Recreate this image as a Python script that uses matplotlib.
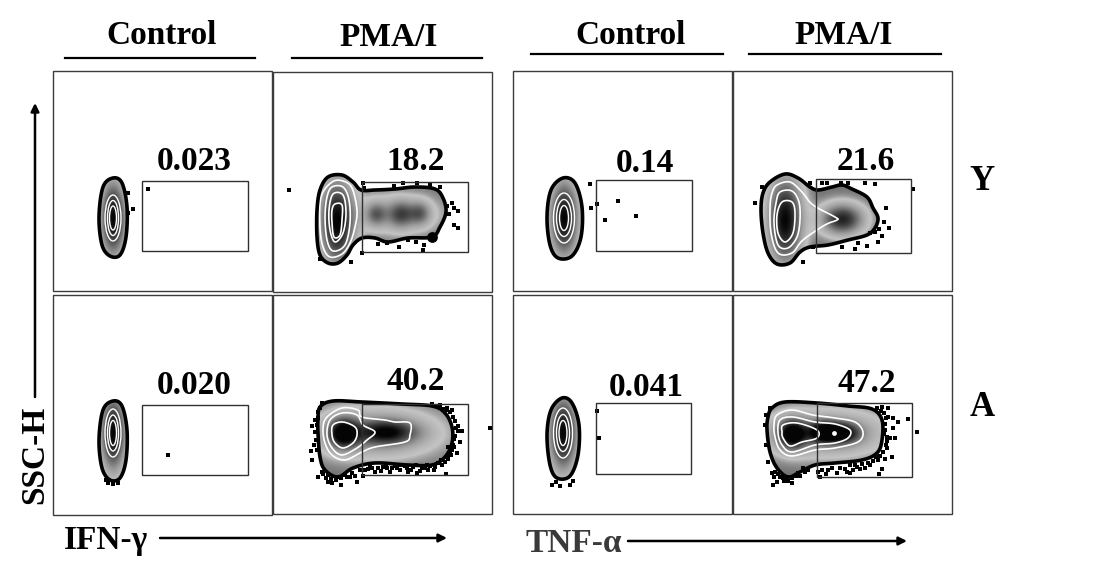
import numpy as np
import matplotlib
matplotlib.use("Agg")
import matplotlib.pyplot as plt
from matplotlib.colors import LinearSegmentedColormap
from matplotlib.patches import Ellipse, Polygon, Rectangle

plt.rcParams['font.family'] = ['Liberation Serif', 'DejaVu Serif']

# text
headers = ["Control", "PMA/I", "Control", "PMA/I"]
percent_labels = ["0.023", "18.2", "0.14", "21.6", "0.020", "40.2", "0.041", "47.2"]
row_labels = ["Y", "A"]

# everything below, in image pixels (x, y)
# outer contour of each population
outline_ifn_ctrl_y = [(113,178),(122,183),(127,207),(126,237),(120,255),(110,256),(102,245),(99,217),(103,187)]
outline_ifn_pma_y = [(328,177),(342,175),(353,182),(361,190),(375,190),(395,189),(415,187),(435,189),(443,198),(446,212),
                     (440,227),(432,237),(408,238),(388,242),(375,238),(362,238),(353,245),(347,255),(338,263),(328,263),
                     (320,255),(317,237),(317,210),(320,190)]
outline_tnf_ctrl_y = [(563,178),(575,183),(582,207),(581,237),(572,256),(558,258),(550,245),(547,217),(551,190)]
outline_tnf_pma_y = [(770,182),(785,174),(798,178),(810,187),(818,190),(832,187),(842,185),(852,189),(867,197),(873,208),
                     (878,218),(875,228),(867,235),(848,240),(828,245),(810,247),(800,252),(790,263),(777,264),(768,253),
                     (763,233),(761,210),(763,193)]
outline_ifn_ctrl_a = [(113,401),(122,406),(127,430),(126,460),(120,478),(110,480),(102,468),(99,440),(103,410)]
outline_ifn_pma_a = [(320,407),(333,401),(362,402),(402,404),(432,406),(445,413),(452,427),(452,443),(445,457),(432,465),
                     (408,465),(375,463),(353,468),(338,477),(325,470),(320,457),(318,433),(318,420)]
outline_tnf_ctrl_a = [(562,398),(572,403),(579,425),(578,455),(570,476),(557,478),(550,465),(547,435),(551,410)]
outline_tnf_pma_a = [(772,408),(785,402),(817,403),(848,406),(872,409),(882,420),(882,440),(877,453),(862,460),(835,463),
                     (815,465),(800,472),(788,477),(777,468),(770,452),(767,430),(768,417)]

# inner white contours of the PMA/I panels
rings_ifn_pma_y = [
    [(332,182),(343,181),(352,188),(357,210),(355,227),(350,243),(342,254),(330,257),(323,247),(320,227),(321,197)],
    [(332,187),(343,187),(349,200),(350,223),(345,245),(333,251),(327,240),(325,217),(327,197)],
    [(333,194),(343,195),(346,213),(343,233),(335,242),(330,230),(329,210)],
    [(335,204),(342,205),(342,220),(340,235),(334,237),(332,223),(332,210)],
]
rings_tnf_pma_y = [
    [(777,185),(790,182),(802,192),(813,205),(835,217),(837,220),(825,225),(803,240),(792,253),(778,253),(771,233),(770,207),(772,193)],
    [(780,192),(792,191),(799,202),(800,220),(797,237),(788,248),(778,245),(774,223),(776,203)],
    [(782,202),(792,202),(795,213),(793,233),(785,242),(778,233),(777,215)],
]
rings_ifn_pma_a = [
    [(327,417),(342,408),(358,410),(362,417),(385,420),(395,422),(410,423),(410,435),(405,442),(375,447),(362,452),(345,460),(332,455),(325,443),(323,428)],
    [(330,420),(342,413),(357,415),(363,425),(375,432),(367,440),(357,448),(342,455),(332,448),(327,435)],
    [(333,425),(343,422),(355,427),(357,435),(353,443),(343,448),(335,443),(332,435)],
]
rings_tnf_pma_a = [
    [(777,415),(792,410),(813,415),(835,418),(855,422),(863,432),(858,442),(835,448),(815,450),(792,456),(780,450),(775,437),(774,425)],
    [(780,420),(793,417),(815,422),(835,424),(850,430),(848,438),(835,443),(815,445),(792,452),(782,445),(778,433)],
    [(783,425),(797,423),(817,430),(817,438),(802,442),(790,446),(783,438),(782,432)],
]

# control lobes: nested ellipses, centre x, centre y, widths, heights
lobe_ifn_y = (113, 218, [16, 11, 7], [46, 35, 24])
lobe_tnf_y = (564, 218, [21, 15, 9], [50, 37, 25])
lobe_ifn_a = (113, 433, [16, 11, 7], [48, 36, 25])
lobe_tnf_a = (563, 433, [19, 13, 8], [50, 37, 25])

# density peaks: x, y, sigma x, sigma y, height
peaks_ifn_ctrl_y = [(113,218,8,24,1.0)]
peaks_ifn_pma_y = [(337,222,11,28,1.0),(376,214,7,8,0.42),(401,214,9,9,0.5),(420,213,7,8,0.42),(395,214,30,13,0.22)]
peaks_tnf_ctrl_y = [(564,218,9,24,1.0)]
peaks_tnf_pma_y = [(785,220,11,28,1.0),(842,219,14,10,0.85)]
peaks_ifn_ctrl_a = [(113,433,8,24,1.0)]
peaks_ifn_pma_a = [(343,433,10,10,1.0),(387,432,20,8,0.7),(375,433,40,16,0.4)]
peaks_tnf_ctrl_a = [(563,433,9,24,1.0)]
peaks_tnf_pma_a = [(792,434,10,10,1.0),(823,432,10,7,0.9),(842,433,12,7,0.8),(825,433,40,15,0.4)]

# single events
dots_ifn_ctrl_y = [(148,189),(128,193),(133,209),(128,213)]
dots_ifn_pma_y = [(289,190),(320,259),(351,262),(362,253),(363,183),(364,188),(394,186),(403,183),(417,183),(430,185),
                  (440,187),(452,203),(447,206),(454,208),(458,211),(449,214),(454,225),(458,228),(424,245),(399,247),
                  (423,250),(378,244),(387,243),(416,242),(408,240)]
dots_tnf_ctrl_y = [(597,204),(618,201),(605,220),(636,216),(590,184),(591,208)]
dots_tnf_pma_y = [(762,187),(755,203),(803,262),(810,183),(822,183),(827,183),(841,183),(848,183),(865,183),(875,184),
                  (913,189),(886,208),(884,222),(889,228),(879,229),(875,232),(882,236),(878,242),(867,246),(858,243),
                  (855,249),(842,247),(813,247),(870,233)]
dots_ifn_ctrl_a = [(168,455),(108,483),(113,484),(118,483),(106,480)]
dots_ifn_pma_a = [(312,426),(317,425),(315,432),(318,418),(320,408),(322,403),(311,451),(317,450),(312,460),(318,477),
                  (328,482),(332,483),(341,485),(357,482),(328,475),(337,477),(347,477),(350,477),(363,476),(368,469),
                  (375,472),(383,467),(392,468),(397,468),(408,472),(417,473),(428,470),(435,467),(446,474),(442,465),
                  (448,459),(457,453),(452,450),(460,442),(454,439),(458,431),(462,431),(458,426),(452,410),(446,410),
                  (490,428),(440,405),(432,404),(451,455),(448,447),(453,445),(390,472),(387,468),(372,468),(422,468),
                  (427,465),(413,467),(407,468),(401,465),
                  (322,472),(326,478),(331,479),(336,480),(341,478),(345,475),(352,473),(355,476),(360,470),(365,470),
                  (370,466),(378,468),(381,471),(386,465),(395,466),(400,470),(405,466),(411,470),(416,465),(420,471),
                  (425,468),(430,466),(434,470),(438,463),(441,460),(445,462),(448,455),(450,452),(454,447),(455,436),
                  (456,428),(455,421),(453,417),(450,412),(447,408),(443,409),(437,406),(323,474),(318,412),(315,420),
                  (316,440),(314,445)]
dots_tnf_ctrl_a = [(597,411),(599,438),(552,485),(556,482),(560,486),(570,485),(573,481)]
dots_tnf_pma_a = [(773,485),(777,482),(774,477),(778,474),(783,478),(792,483),(787,477),(798,473),(803,468),(820,477),
                  (818,472),(828,470),(837,473),(847,472),(853,470),(860,469),(865,468),(879,474),(882,469),(870,465),
                  (885,459),(892,457),(887,448),(895,438),(890,438),(893,428),(898,422),(893,418),(888,417),(908,419),
                  (917,432),(888,408),(882,407),(885,430),(887,437),(878,460),(855,465),(850,465),
                  (775,472),(780,477),(784,481),(788,481),(792,478),(796,476),(800,476),(805,472),(808,470),(822,470),
                  (826,474),(832,468),(840,468),(845,469),(850,473),(857,467),(862,464),(868,463),(873,461),(876,457),
                  (880,456),(883,452),(886,445),(887,441),(884,434),(885,424),(886,418),(884,413),(881,411),(877,408),
                  (772,473),(768,462),(766,445),(765,425),(766,415),(770,408)]

# panel frames and gates: left, top, right, bottom
frames = [(53,71,272,291),(273,72,492,292),(513,71,732,291),(733,71,952,291),
          (53,295,272,515),(273,295,492,514),(513,295,732,514),(733,295,952,514)]
gates = [(142,181,248,251),(362,182,468,252),(596,180,692,251),(816,179,911,253),
         (142,405,248,475),(362,404,468,475),(596,403,691,474),(817,403,912,477)]
label_xy = [(194,162),(416,162),(645,163),(866,161),(194,386),(416,382),(646,388),(867,384)]

outlines = [outline_ifn_ctrl_y, outline_ifn_pma_y, outline_tnf_ctrl_y, outline_tnf_pma_y,
            outline_ifn_ctrl_a, outline_ifn_pma_a, outline_tnf_ctrl_a, outline_tnf_pma_a]
peaks = [peaks_ifn_ctrl_y, peaks_ifn_pma_y, peaks_tnf_ctrl_y, peaks_tnf_pma_y,
         peaks_ifn_ctrl_a, peaks_ifn_pma_a, peaks_tnf_ctrl_a, peaks_tnf_pma_a]
dots = [dots_ifn_ctrl_y, dots_ifn_pma_y, dots_tnf_ctrl_y, dots_tnf_pma_y,
        dots_ifn_ctrl_a, dots_ifn_pma_a, dots_tnf_ctrl_a, dots_tnf_pma_a]
rings = [None, rings_ifn_pma_y, None, rings_tnf_pma_y, None, rings_ifn_pma_a, None, rings_tnf_pma_a]
lobes = [lobe_ifn_y, None, lobe_tnf_y, None, lobe_ifn_a, None, lobe_tnf_a, None]

# edge is mid grey, goes light, then dark towards the peak
density_cmap = LinearSegmentedColormap.from_list(
    "flow", [(0.0, "#707070"), (0.1, "#c4c4c4"), (0.32, "#9a9a9a"), (0.65, "#4a4a4a"), (1.0, "#050505")])


# closed Catmull-Rom curve through the read-off points
def smooth(points, steps=8):
    p = np.array(points, dtype=float)
    out = []
    for i in range(len(p)):
        p0, p1, p2, p3 = p[i-1], p[i], p[(i+1) % len(p)], p[(i+2) % len(p)]
        for t in np.linspace(0, 1, steps, endpoint=False):
            out.append(0.5*(2*p1 + (p2 - p0)*t + (2*p0 - 5*p1 + 4*p2 - p3)*t**2 + (3*p1 - p0 - 3*p2 + p3)*t**3))
    return np.array(out)


def density(panel_peaks, x, y):
    z = np.zeros_like(x, dtype=float)
    for px, py, sx, sy, h in panel_peaks:
        z += h*np.exp(-0.5*((x - px)/sx)**2 - 0.5*((y - py)/sy)**2)
    return np.clip(z, 0, 1)


fig = plt.figure(figsize=(10.94, 5.81), dpi=100)
ax = fig.add_axes([0, 0, 1, 1])
ax.set_xlim(0, 1094)
ax.set_ylim(581, 0)
ax.axis('off')

for i in range(8):
    l, t, r, b = frames[i]
    ax.add_patch(Rectangle((l, t), r-l, b-t, fill=False, ec="#3c3c3c", lw=1.0, zorder=1))

    # shaded density, clipped to the outer contour
    shape = smooth(outlines[i])
    gx, gy = np.meshgrid(np.arange(l, r, 0.5), np.arange(t, b, 0.5))
    im = ax.imshow(density(peaks[i], gx, gy), extent=(l, r, b, t), cmap=density_cmap, vmin=0, vmax=1,
                   interpolation='bilinear', aspect='auto', zorder=2)
    clip = Polygon(shape, closed=True, transform=ax.transData, fc='none', ec='none')
    ax.add_patch(clip)
    im.set_clip_path(clip)
    ax.add_patch(Polygon(shape, closed=True, fill=False, ec='black', lw=2.6, zorder=4))

    if rings[i] is not None:
        for ring in rings[i]:
            ax.add_patch(Polygon(smooth(ring), closed=True, fill=False, ec='white', lw=1.2, zorder=3))
    if lobes[i] is not None:
        cx, cy, widths, heights = lobes[i]
        for w, h in zip(widths, heights):
            ax.add_patch(Ellipse((cx, cy), w, h, fill=False, ec='white', lw=1.0, zorder=3))

    dx = [d[0] for d in dots[i]]
    dy = [d[1] for d in dots[i]]
    ax.scatter(dx, dy, s=9, marker='s', c='black', linewidths=0, zorder=5)

    gl, gt, gr, gb = gates[i]
    ax.add_patch(Rectangle((gl, gt), gr-gl, gb-gt, fill=False, ec="#303030", lw=1.0, zorder=6))

    ax.text(label_xy[i][0], label_xy[i][1], percent_labels[i], fontsize=24, fontweight='bold',
            ha='center', va='center', zorder=7)

# blob on the edge of the 18.2 population
ax.scatter([432], [237], s=60, c='black', linewidths=0, zorder=5)
# bright spot in the 47.2 population
ax.scatter([834], [433], s=12, c='white', linewidths=0, zorder=5)

# column headers
header_xy = [(162,35),(389,37),(631,36),(844,36)]
header_rules = [(65,255,58),(292,482,58),(531,723,54),(749,941,54)]
for name, xy, rule in zip(headers, header_xy, header_rules):
    ax.text(xy[0], xy[1], name, fontsize=24, fontweight='bold', ha='center', va='center')
    ax.plot([rule[0], rule[1]], [rule[2], rule[2]], color='black', lw=1.6)

ax.text(982, 182, row_labels[0], fontsize=25, fontweight='bold', ha='center', va='center')
ax.text(982, 407, row_labels[1], fontsize=25, fontweight='bold', ha='center', va='center')

# axis names and arrows
ax.text(35, 455, "SSC-H", fontsize=24, fontweight='bold', rotation=90, ha='center', va='center')
ax.text(106, 541, "IFN-γ", fontsize=24, fontweight='bold', ha='center', va='center')
ax.text(574, 543, "TNF-α", fontsize=24, fontweight='bold', color='#3a3a3a', ha='center', va='center')
arrow = dict(arrowstyle='-|>', color='black', lw=1.8, mutation_scale=12, shrinkA=0, shrinkB=0)
ax.annotate("", xy=(35,103), xytext=(35,397), arrowprops=arrow)
ax.annotate("", xy=(447,538), xytext=(160,538), arrowprops=arrow)
ax.annotate("", xy=(907,541), xytext=(628,541), arrowprops=arrow)

ax.set_xlim(0, 1094)
ax.set_ylim(581, 0)
fig.savefig("out.png", dpi=100)
